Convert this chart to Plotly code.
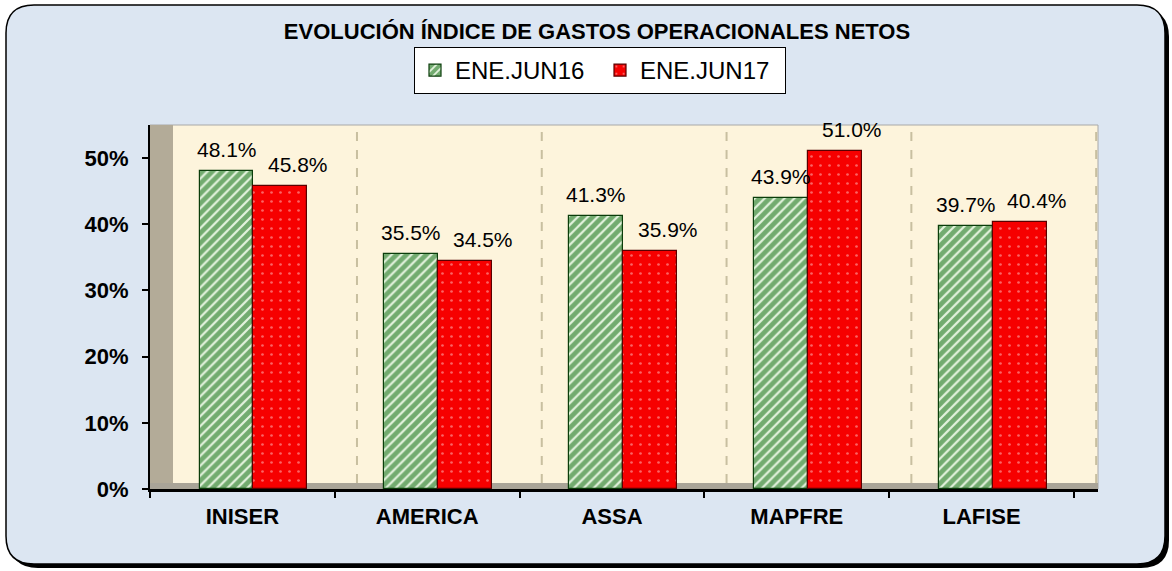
import plotly.graph_objects as go

categories = ["INISER", "AMERICA", "ASSA", "MAPFRE", "LAFISE"]
ene_jun16 = [0.481, 0.355, 0.413, 0.439, 0.397]
ene_jun17 = [0.458, 0.345, 0.359, 0.510, 0.404]
series_names = ["ENE.JUN16", "ENE.JUN17"]
title_text = "EVOLUCIÓN ÍNDICE DE GASTOS OPERACIONALES NETOS"

W, H = 1172, 571
L, R, T, B = 150, 1098, 125, 489  # plot area in px
pw, ph = R - L, B - T


def px(x):
    return (x - L) / pw


def py(y):
    return (B - y) / ph


def rounded(x0, y0, x1, y1, r):
    rx, ry = r / pw, r / ph
    X0, X1, Y0, Y1 = px(x0), px(x1), py(y0), py(y1)  # Y0 top, Y1 bottom
    return (f"M {X0+rx},{Y0} L {X1-rx},{Y0} Q {X1},{Y0} {X1},{Y0-ry} "
            f"L {X1},{Y1+ry} Q {X1},{Y1} {X1-rx},{Y1} L {X0+rx},{Y1} "
            f"Q {X0},{Y1} {X0},{Y1+ry} L {X0},{Y0-ry} Q {X0},{Y0} {X0+rx},{Y0} Z")


FONT = "Arial, 'Liberation Sans', sans-serif"
xs = list(range(len(categories)))
bw = 0.292
off16, off17 = -0.232, 0.06

fig = go.Figure()
fig.add_trace(go.Bar(
    x=xs, y=ene_jun16, name=series_names[0], width=bw, offset=off16,
    marker=dict(color="#1a9a1a", line=dict(color="#0b3d0b", width=1.2),
                pattern=dict(shape="/", fgcolor="#006400", bgcolor="#e4f2de",
                             size=7, solidity=0.68)),
))
fig.add_trace(go.Bar(
    x=xs, y=ene_jun17, name=series_names[1], width=bw, offset=off17,
    marker=dict(color="#ff0000", line=dict(color="#5a0000", width=1.2),
                pattern=dict(shape=".", fgcolor="#ffc8c8", bgcolor="#f60000",
                             size=9, solidity=0.07)),
))

annotations = []
for i, (a, b) in enumerate(zip(ene_jun16, ene_jun17)):
    annotations.append(dict(x=i + off16 + bw / 2, y=a, xref="x", yref="y",
                            text=f"{a*100:.1f}%", showarrow=False, yanchor="bottom",
                            yshift=8, font=dict(family=FONT, size=21, color="black")))
    annotations.append(dict(x=i + off17 + bw / 2 + 0.095, y=b, xref="x", yref="y",
                            text=f"{b*100:.1f}%", showarrow=False, yanchor="bottom",
                            yshift=8, font=dict(family=FONT, size=21, color="black")))

shapes = []
# shadow + rounded frame
shapes.append(dict(type="path", xref="paper", yref="paper", path=rounded(10, 9, 1169, 568, 28),
                   fillcolor="black", line=dict(width=0), layer="below"))
shapes.append(dict(type="path", xref="paper", yref="paper", path=rounded(6, 5, 1165, 564, 28),
                   fillcolor="#dce6f2", line=dict(color="black", width=1.5), layer="below"))
# cream plot background
shapes.append(dict(type="rect", xref="paper", yref="paper", x0=0, x1=1, y0=0, y1=1,
                   fillcolor="#fdf4dc", line=dict(color="#a8a8a8", width=1), layer="below"))
# left wall
shapes.append(dict(type="rect", xref="paper", yref="paper", x0=0, x1=px(173), y0=0, y1=1,
                   fillcolor="#b3ab98", line=dict(width=0), layer="below"))
# floor
shapes.append(dict(type="rect", xref="paper", yref="paper", x0=0, x1=1, y0=0, y1=py(483),
                   fillcolor="#a9a498", line=dict(width=0), layer="below"))
# dashed vertical gridlines
for k in range(len(categories)):
    xv = k + 0.5 + 0.12
    shapes.append(dict(type="line", xref="x", yref="paper", x0=xv, x1=xv, y0=py(483), y1=1,
                       line=dict(color="#c8bfa0", width=2, dash="dash"), layer="below"))

fig.update_layout(
    width=W, height=H,
    margin=dict(l=L, r=W - R, t=T, b=H - B),
    paper_bgcolor="white", plot_bgcolor="rgba(0,0,0,0)",
    barmode="overlay", bargap=0,
    font=dict(family=FONT, color="black"),
    title=dict(text=f"<b>{title_text}</b>", x=px(597), xref="paper", xanchor="center",
               y=1 - 31 / H, yref="container", yanchor="middle",
               font=dict(family=FONT, size=22, color="black")),
    legend=dict(orientation="h", x=px(600), xanchor="center", y=py(47), yanchor="top",
                bgcolor="white", bordercolor="black", borderwidth=1,
                font=dict(family=FONT, size=24, color="black"), itemwidth=30,
                entrywidth=140),
    shapes=shapes, annotations=annotations,
    xaxis=dict(range=[-0.5, 4.63], tickvals=xs, ticktext=categories, ticks="",
               showgrid=False, zeroline=False, showline=True, linecolor="black", linewidth=3,
               tickfont=dict(family=FONT, size=22, color="black", weight="bold"),
               minor=dict(tickvals=[k - 0.5 for k in range(len(categories) + 1)],
                          ticks="outside", ticklen=6, tickcolor="black", tickwidth=1.5),
               ticklabelstandoff=6),
    yaxis=dict(range=[0, 0.55], tickvals=[0, 0.1, 0.2, 0.3, 0.4, 0.5], tickformat=".0%",
               showgrid=False, zeroline=False, showline=True, linecolor="black", linewidth=2,
               ticks="outside", ticklen=6, tickcolor="black", tickwidth=1.5,
               tickfont=dict(family=FONT, size=22, color="black", weight="bold"),
               ticklabelstandoff=9),
)

fig.write_html("out.html", config={"displayModeBar": False},
               post_script="document.body.style.margin='0';")
